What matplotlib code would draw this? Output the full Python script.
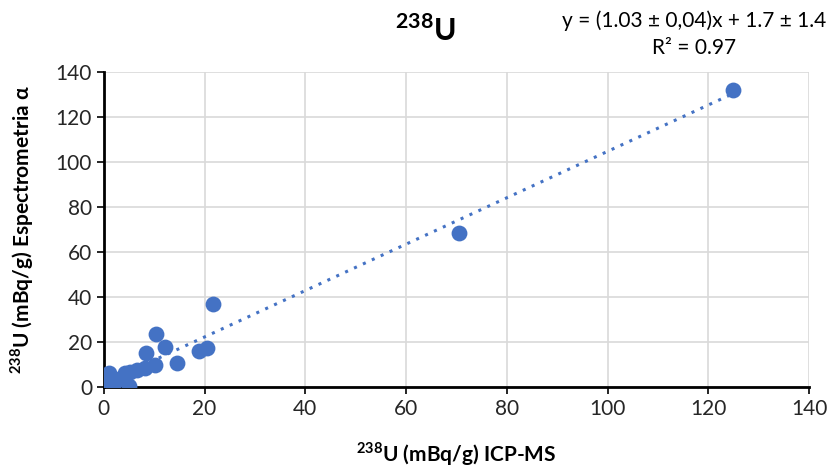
import numpy as np
import matplotlib
matplotlib.use('Agg')
import matplotlib.pyplot as plt

plt.rcParams['font.family'] = ['Lato', 'DejaVu Sans']
plt.rcParams['mathtext.fontset'] = 'custom'
plt.rcParams['mathtext.rm'] = 'Lato'
plt.rcParams['mathtext.bf'] = 'Lato:bold'

# datos (mBq/g)
icp_ms = [0.3, 0.5, 0.8, 1.0, 1.2, 1.5, 2.0, 2.5, 3.0, 4.2, 5.0, 5.2, 6.5,
          8.1, 8.3, 10.1, 10.3, 12.1, 14.6, 18.9, 20.5, 21.6, 70.5, 125.0]
alfa = [0.5, 1.5, 3.0, 6.5, 2.0, 1.0, 2.0, 3.0, 3.5, 6.1, 0.4, 6.8, 7.5,
        8.3, 15.0, 9.8, 23.4, 17.9, 10.8, 16.1, 17.2, 36.9, 68.5, 132.0]

pendiente = 1.03
ordenada = 1.7

fig = plt.figure(figsize=(8.31, 4.67), dpi=100)
ax = fig.add_axes([0.125, 0.171, 0.8485, 0.675])

ax.scatter(icp_ms, alfa, s=130, color='#4472C4', zorder=3, linewidths=0)

xs = np.array([min(icp_ms), max(icp_ms)])
ax.plot(xs, pendiente * xs + ordenada, ls=(0, (1, 2.2)), lw=2.2, color='#4472C4', zorder=2)

ax.set_xlim(0, 140)
ax.set_ylim(0, 140)
ax.set_xticks(range(0, 141, 20))
ax.set_yticks(range(0, 141, 20))
ax.grid(True, color='#d9d9d9', lw=1.2)
ax.set_axisbelow(True)
for s in ['top', 'right']:
    ax.spines[s].set_visible(False)
for s in ['left', 'bottom']:
    ax.spines[s].set_linewidth(2)
ax.tick_params(labelsize=15, width=1.2, length=5, colors='black', labelcolor='#262626')

ax.set_xlabel(r'$^{\mathbf{238}}$U (mBq/g) ICP-MS', fontsize=15, fontweight='bold', labelpad=15)
ax.set_ylabel(r'$^{\mathbf{238}}$U (mBq/g) Espectrometria α', fontsize=15, fontweight='bold', labelpad=14)

fig.text(0.512, 0.935, r'$^{\mathbf{238}}$U', fontsize=22, fontweight='bold', ha='center', va='center')
fig.text(0.835, 0.955, 'y = (1.03 ± 0,04)x + 1.7 ± 1.4', fontsize=15, ha='center', va='center')
fig.text(0.835, 0.898, 'R² = 0.97', fontsize=15, ha='center', va='center')

plt.savefig('out.png', dpi=100)
